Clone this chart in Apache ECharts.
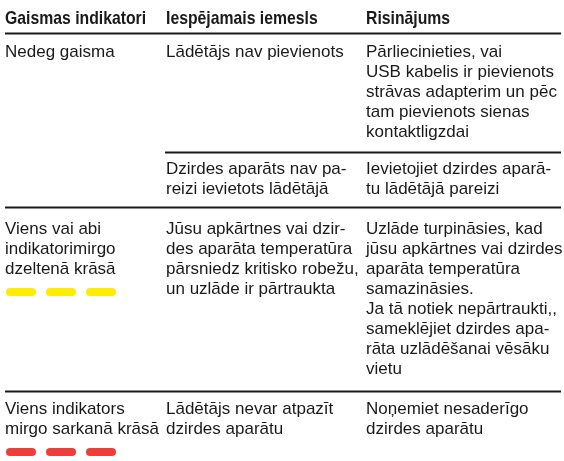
<!DOCTYPE html>
<html>
<head>
<meta charset="utf-8">
<script src="https://cdn.jsdelivr.net/npm/echarts@6/dist/echarts.min.js"></script>
<style>
html,body{margin:0;padding:0;background:#fff;}
#chart{width:564px;height:461px;}
</style>
</head>
<body>
<div id="chart"></div>
<script>
// ---- data ----
const headers = ['Gaismas indikatori', 'Iespējamais iemesls', 'Risinājums'];
const indicators = [
  ['Nedeg gaisma'],
  ['Viens vai abi', 'indikatorimirgo', 'dzeltenā krāsā'],
  ['Viens indikators', 'mirgo sarkanā krāsā']
];
// which cause row each indicator starts at
const indicatorStartRow = [0, 2, 3];
const indicatorLights = [0, 3, 3];
const indicatorLightColor = [null, '#FFEC00', '#EE3E3A'];
const causes = [
  ['Lādētājs nav pievienots'],
  ['Dzirdes aparāts nav pa-', 'reizi ievietots lādētājā'],
  ['Jūsu apkārtnes vai dzir-', 'des aparāta temperatūra', 'pārsniedz kritisko robežu,', 'un uzlāde ir pārtraukta'],
  ['Lādētājs nevar atpazīt', 'dzirdes aparātu']
];
const solutions = [
  ['Pārliecinieties, vai', 'USB kabelis ir pievienots', 'strāvas adapterim un pēc', 'tam pievienots sienas', 'kontaktligzdai'],
  ['Ievietojiet dzirdes aparā-', 'tu lādētājā pareizi'],
  ['Uzlāde turpināsies, kad', 'jūsu apkārtnes vai dzirdes', 'aparāta temperatūra', 'samazināsies.', 'Ja tā notiek nepārtraukti,,', 'sameklējiet dzirdes apa-', 'rāta uzlādēšanai vēsāku', 'vietu'],
  ['Noņemiet nesaderīgo', 'dzirdes aparātu']
];

// ---- layout ----
const BODY_FONT = '17px "Liberation Sans", Arial, sans-serif';
const HEAD_FONT = 'bold 19px "Liberation Sans", Arial, sans-serif';
const HEAD_SCALE_X = 0.83;
const LH = 20, BODY_OFF = 16, HEAD_OFF = 16.6;
const colX = [5, 166, 366];
const left = 5, right = 561;
const headerBaseline = 25;
const headerRuleY = 33.5;
const rowRuleY = [null, 152.5, 207.5, 391.5];
const rowBaseline = [58, 175, 235, 415];
const lightW = 30, lightH = 8, lightGap = 10;
const textColor = '#1a1a1a';

const g = [];
function txt(x, baseline, lines, head) {
  g.push({
    type: 'text', x: x, y: baseline - (head ? HEAD_OFF : BODY_OFF), silent: true,
    scaleX: head ? HEAD_SCALE_X : 1,
    style: {
      text: lines.join('\n'), fill: textColor,
      font: head ? HEAD_FONT : BODY_FONT,
      lineHeight: LH, verticalAlign: 'top', align: 'left'
    }
  });
}
function rule(x1, y, x2, w) {
  g.push({ type: 'line', silent: true, shape: { x1: x1, y1: y, x2: x2, y2: y }, style: { stroke: '#1a1a1a', lineWidth: w } });
}
headers.forEach((h, i) => txt(colX[i], headerBaseline, [h], true));
rule(left, headerRuleY, right, 2);
causes.forEach((c, r) => {
  if (rowRuleY[r] != null) rule(r === 1 ? colX[1] - 1 : left, rowRuleY[r], right, 2);
  txt(colX[1], rowBaseline[r], c, false);
  txt(colX[2], rowBaseline[r], solutions[r], false);
});
indicators.forEach((ind, i) => {
  const r = indicatorStartRow[i];
  txt(colX[0], rowBaseline[r], ind, false);
  const n = indicatorLights[i];
  if (n) {
    const cy = rowBaseline[r] + (ind.length - 1) * LH + 17;
    for (let k = 0; k < n; k++) {
      g.push({ type: 'rect', silent: true,
        shape: { x: colX[0] + 1 + k * (lightW + lightGap), y: cy - lightH / 2, width: lightW, height: lightH, r: lightH / 2 },
        style: { fill: indicatorLightColor[i] } });
    }
  }
});

const chart = echarts.init(document.getElementById('chart'), null, { renderer: 'canvas' });
chart.setOption({ backgroundColor: '#ffffff', animation: false, graphic: g });
</script>
</body>
</html>
